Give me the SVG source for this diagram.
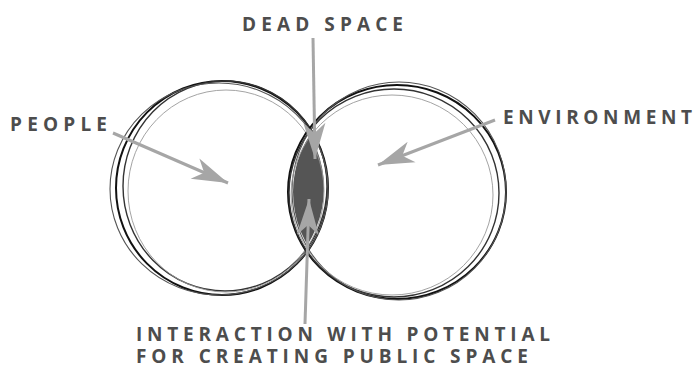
<svg xmlns="http://www.w3.org/2000/svg" width="696" height="369" viewBox="0 0 696 369">
<style>
.lbl{font-family:"Open Sans","Liberation Sans",sans-serif;font-weight:bold;font-size:19px;fill:#4d4d4d}
.ring{fill:none}
.r1{stroke:#111;stroke-width:2}
.r2{stroke:#333;stroke-width:1.4}
.r3{stroke:#555;stroke-width:1.1}
.r4{stroke:#999;stroke-width:0.9}
.arr{stroke:#a6a6a6;stroke-width:3;fill:none;marker-end:url(#head)}
</style>
<defs>
<marker id="head" markerUnits="userSpaceOnUse" markerWidth="40" markerHeight="26" viewBox="-38 -13 40 26" refX="0" refY="0" orient="auto">
<path d="M0,0 L-36,-11 L-26,0 L-36,11 Z" fill="#a6a6a6"/>
</marker>
<clipPath id="clipL"><ellipse cx="222" cy="188" rx="102" ry="104"/></clipPath>
</defs>
<g id="lens">
<ellipse cx="396" cy="192" rx="103" ry="104" fill="#555" clip-path="url(#clipL)"/>
</g>
<g id="people-circle">
<ellipse class="ring r1" cx="222" cy="188" rx="106" ry="107"/>
<ellipse class="ring r2" cx="225" cy="186" rx="102" ry="105"/>
<ellipse class="ring r3" cx="219" cy="189" rx="109" ry="106"/>
<ellipse class="ring r4" cx="226" cy="191" rx="98" ry="101"/>
</g>
<g id="environment-circle">
<ellipse class="ring r1" cx="397" cy="192" rx="109" ry="107"/>
<ellipse class="ring r2" cx="394" cy="193" rx="105" ry="104"/>
<ellipse class="ring r3" cx="399" cy="191" rx="107" ry="109"/>
<ellipse class="ring r4" cx="392" cy="195" rx="101" ry="100"/>
</g>
<g id="connectors">
<path class="arr" d="M113,133 L228,183"/>
<path class="arr" d="M495,120 L378,165"/>
<path class="arr" d="M313,38 L315,159"/>
<path class="arr" d="M305,324 L309,199"/>
</g>
<g id="label-dead-space">
<text class="lbl" x="242" y="31" textLength="161" lengthAdjust="spacing">DEAD SPACE</text>
</g>
<g id="label-people">
<text class="lbl" x="10" y="131" textLength="97" lengthAdjust="spacing">PEOPLE</text>
</g>
<g id="label-environment">
<text class="lbl" x="503" y="124" textLength="189" lengthAdjust="spacing">ENVIRONMENT</text>
</g>
<g id="label-interaction">
<text class="lbl" x="136" y="341" textLength="414" lengthAdjust="spacing">INTERACTION WITH POTENTIAL</text>
<text class="lbl" x="136" y="363" textLength="392" lengthAdjust="spacing">FOR CREATING PUBLIC SPACE</text>
</g>
</svg>
